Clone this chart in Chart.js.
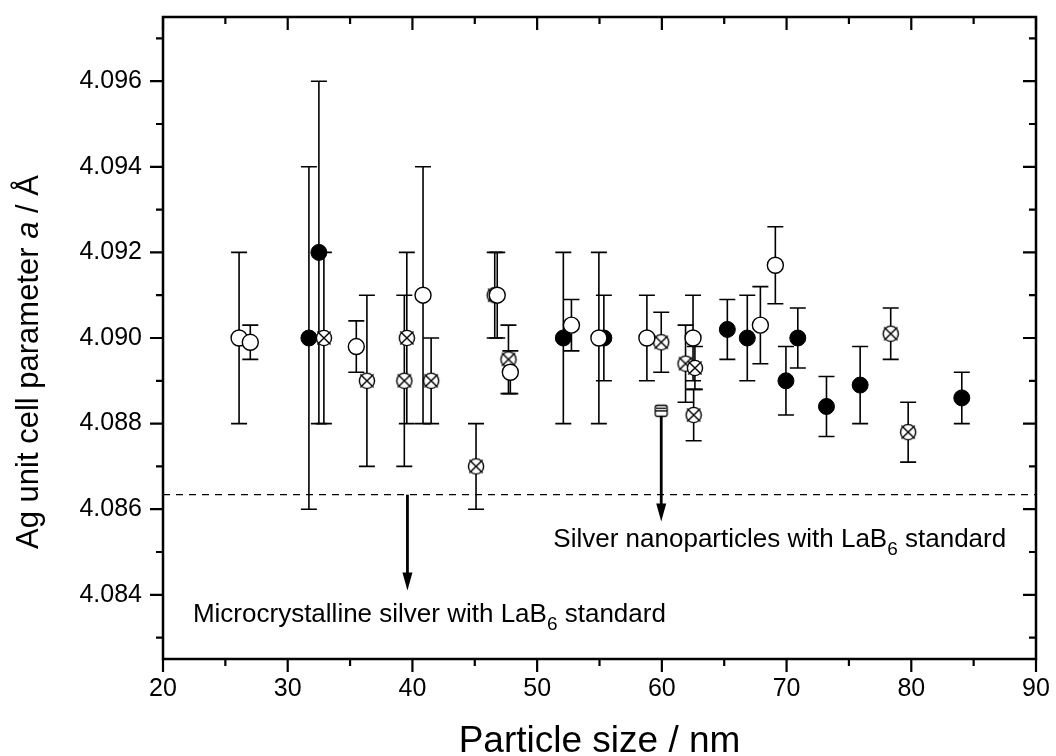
<!DOCTYPE html>
<html>
<head>
<meta charset="utf-8">
<script src="https://cdn.jsdelivr.net/npm/chart.js@4.4.0/dist/chart.umd.min.js"></script>
<style>
    html, body { margin: 0; padding: 0; background: #fff; }
    #wrap { width: 1056px; height: 756px; }
</style>
</head>
<body>
<div id="wrap"><canvas id="latticeChart" width="1056" height="756"></canvas></div>
<script>
// Particle size / nm, lattice parameter a / Å, lower and upper error limits
var filledX  = [31.7, 32.5, 52.1, 55.35, 65.25, 66.85, 69.95, 70.9, 73.2, 75.9, 84.05];
var filledY  = [4.0900, 4.0920, 4.0900, 4.0900, 4.0902, 4.0900, 4.0890, 4.0900, 4.0884, 4.0889, 4.0886];
var filledLo = [4.0860, 4.0880, 4.0880, 4.0890, 4.0895, 4.0890, 4.0882, 4.0893, 4.0877, 4.0880, 4.0880];
var filledHi = [4.0940, 4.0960, 4.0920, 4.0910, 4.0909, 4.0910, 4.0898, 4.0907, 4.0891, 4.0898, 4.0892];

var openX  = [26.1, 27.0, 35.5, 40.85, 46.8, 47.85, 52.75, 54.95, 58.8, 62.5, 67.9, 69.1];
var openY  = [4.0900, 4.0899, 4.0898, 4.0910, 4.0910, 4.0892, 4.0903, 4.0900, 4.0900, 4.0900, 4.0903, 4.0917];
var openLo = [4.0880, 4.0895, 4.0892, 4.0880, 4.0900, 4.0887, 4.0897, 4.0880, 4.0890, 4.0890, 4.0894, 4.0908];
var openHi = [4.0920, 4.0903, 4.0904, 4.0940, 4.0920, 4.0897, 4.0909, 4.0920, 4.0910, 4.0910, 4.0912, 4.0926];

var crossX  = [32.9, 36.35, 39.35, 39.55, 41.5, 45.1, 46.6, 47.7, 59.95, 61.9, 62.65, 62.55, 78.35, 79.75];
var crossY  = [4.0900, 4.0890, 4.0890, 4.0900, 4.0890, 4.0870, 4.0910, 4.0895, 4.0899, 4.0894, 4.0893, 4.0882, 4.0901, 4.0878];
var crossLo = [4.0880, 4.0870, 4.0870, 4.0880, 4.0880, 4.0860, 4.0900, 4.0887, 4.0892, 4.0885, 4.0888, 4.0876, 4.0895, 4.0871];
var crossHi = [4.0920, 4.0910, 4.0910, 4.0920, 4.0900, 4.0880, 4.0920, 4.0903, 4.0906, 4.0903, 4.0898, 4.0888, 4.0907, 4.0885];

// LaB6 reference values
var standardX = [59.95];
var standardY = [4.0883];
var microRef = 4.08634;

// Arrows: x, start value, tip value
var arrowX    = [39.6, 59.95];
var arrowFrom = [4.08634, 4.0882];
var arrowTo   = [4.0841, 4.08571];

var xTicks = [20, 30, 40, 50, 60, 70, 80, 90];
var xMinor = [25, 35, 45, 55, 65, 75, 85];
var yTicks = [4.084, 4.086, 4.088, 4.090, 4.092, 4.094, 4.096];
var yMinor = [4.083, 4.085, 4.087, 4.089, 4.091, 4.093, 4.095, 4.097];

var FONT = '"Liberation Sans", Arial, sans-serif';

function points(xs, ys, lo, hi) {
    return xs.map(function (x, i) {
        return { x: x, y: ys[i], lo: lo ? lo[i] : null, hi: hi ? hi[i] : null };
    });
}

// circle with an x through it
function crossedCircle() {
    var c = document.createElement('canvas');
    c.width = 22; c.height = 22;
    var g = c.getContext('2d');
    g.translate(11, 11);
    g.fillStyle = '#fff';
    g.strokeStyle = '#000';
    g.lineWidth = 1.4;
    g.beginPath(); g.arc(0, 0, 7.6, 0, Math.PI * 2); g.fill(); g.stroke();
    g.beginPath();
    g.moveTo(-6.6, -6.6); g.lineTo(6.6, 6.6);
    g.moveTo(6.6, -6.6); g.lineTo(-6.6, 6.6);
    g.stroke();
    return c;
}

// small half-hatched square for the LaB6 standard point
function standardMark() {
    var c = document.createElement('canvas');
    c.width = 18; c.height = 18;
    var g = c.getContext('2d');
    g.fillStyle = '#fff';
    g.strokeStyle = '#000';
    g.lineWidth = 1.3;
    g.beginPath();
    g.moveTo(5, 3.5); g.lineTo(13, 3.5); g.quadraticCurveTo(15, 3.5, 15, 6);
    g.lineTo(15, 12); g.quadraticCurveTo(15, 14.5, 13, 14.5); g.lineTo(5, 14.5);
    g.quadraticCurveTo(3, 14.5, 3, 12); g.lineTo(3, 6); g.quadraticCurveTo(3, 3.5, 5, 3.5);
    g.closePath(); g.fill(); g.stroke();
    g.beginPath();
    g.moveTo(3, 9); g.lineTo(15, 9);
    g.moveTo(4, 6.3); g.lineTo(14, 6.3);
    g.stroke();
    return c;
}

// keep the plot frame where it is, whatever the tick label sizes
function fixedBox(size) {
    return function (scale) {
        if (scale.isHorizontal()) scale.height = size; else scale.width = size;
        scale.paddingTop = 0;
        scale.paddingBottom = 0;
        scale.paddingLeft = 0;
        scale.paddingRight = 0;
    };
}

// Error bars, arrows, frame, ticks and labels
var decorPlugin = {
    id: 'decor',
    beforeDatasetsDraw: function (chart) {
        var ctx = chart.ctx, xs = chart.scales.x, ys = chart.scales.y;
        ctx.save();
        ctx.strokeStyle = '#000';
        ctx.lineWidth = 1.6;
        chart.data.datasets.forEach(function (ds) {
            if (!ds.errorBars) return;
            ds.data.forEach(function (p) {
                var px = xs.getPixelForValue(p.x);
                var top = ys.getPixelForValue(p.hi);
                var bot = ys.getPixelForValue(p.lo);
                ctx.beginPath();
                ctx.moveTo(px, top); ctx.lineTo(px, bot);
                ctx.moveTo(px - 8, top); ctx.lineTo(px + 8, top);
                ctx.moveTo(px - 8, bot); ctx.lineTo(px + 8, bot);
                ctx.stroke();
            });
        });
        // arrows
        ctx.lineWidth = 2.8;
        ctx.fillStyle = '#000';
        arrowX.forEach(function (x, i) {
            var px = xs.getPixelForValue(x);
            var y0 = ys.getPixelForValue(arrowFrom[i]);
            var y1 = ys.getPixelForValue(arrowTo[i]);
            ctx.beginPath();
            ctx.moveTo(px, y0); ctx.lineTo(px, y1 - 12);
            ctx.stroke();
            ctx.beginPath();
            ctx.moveTo(px - 5, y1 - 18); ctx.lineTo(px + 5, y1 - 18); ctx.lineTo(px, y1);
            ctx.closePath(); ctx.fill();
        });
        ctx.restore();
    },
    afterDraw: function (chart) {
        var ctx = chart.ctx, a = chart.chartArea, xs = chart.scales.x, ys = chart.scales.y;
        ctx.save();
        ctx.strokeStyle = '#000';
        ctx.lineWidth = 2.5;
        ctx.strokeRect(a.left, a.top, a.right - a.left, a.bottom - a.top);

        function tickX(v, len) {
            var px = xs.getPixelForValue(v);
            ctx.moveTo(px, a.bottom); ctx.lineTo(px, a.bottom + len);
            ctx.moveTo(px, a.top); ctx.lineTo(px, a.top + len);
        }
        function tickY(v, len) {
            var py = ys.getPixelForValue(v);
            ctx.moveTo(a.left, py); ctx.lineTo(a.left - len, py);
            ctx.moveTo(a.right, py); ctx.lineTo(a.right - len, py);
        }
        ctx.lineWidth = 2.2;
        ctx.beginPath();
        xTicks.forEach(function (v) { tickX(v, 13); });
        xMinor.forEach(function (v) { tickX(v, 7); });
        yTicks.forEach(function (v) { tickY(v, 13); });
        yMinor.forEach(function (v) { tickY(v, 7); });
        ctx.stroke();

        // annotations
        function labelWithSub(x, y, pre, sub, post, size) {
            var px = xs.getPixelForValue(x), py = ys.getPixelForValue(y);
            ctx.fillStyle = '#000';
            ctx.textBaseline = 'alphabetic';
            ctx.textAlign = 'left';
            ctx.font = size + 'px ' + FONT;
            ctx.fillText(pre, px, py);
            px += ctx.measureText(pre).width;
            ctx.font = Math.round(size * 0.72) + 'px ' + FONT;
            ctx.fillText(sub, px, py + size * 0.3);
            px += ctx.measureText(sub).width;
            ctx.font = size + 'px ' + FONT;
            ctx.fillText(post, px, py);
        }
        labelWithSub(51.3, 4.08512, 'Silver nanoparticles with LaB', '6', ' standard', 26);
        labelWithSub(22.4, 4.08337, 'Microcrystalline silver with LaB', '6', ' standard', 26);

        // axis titles
        ctx.fillStyle = '#000';
        ctx.textBaseline = 'alphabetic';
        ctx.textAlign = 'center';
        ctx.font = '37px ' + FONT;
        ctx.fillText('Particle size / nm', (a.left + a.right) / 2, 752);

        var parts = [['Ag unit cell parameter ', ''], ['a', 'italic '], [' / Å', '']];
        var total = 0;
        parts.forEach(function (p) {
            ctx.font = p[1] + '31px ' + FONT;
            total += ctx.measureText(p[0]).width;
        });
        ctx.translate(38, 362);
        ctx.rotate(-Math.PI / 2);
        ctx.textAlign = 'left';
        var cx = -total / 2;
        parts.forEach(function (p) {
            ctx.font = p[1] + '31px ' + FONT;
            ctx.fillText(p[0], cx, 0);
            cx += ctx.measureText(p[0]).width;
        });
        ctx.restore();
    }
};

var ctx = document.getElementById('latticeChart').getContext('2d');
var latticeChart = new Chart(ctx, {
    type: 'scatter',
    data: {
        datasets: [{
            type: 'line',
            label: 'Microcrystalline silver',
            data: [{ x: 20, y: microRef }, { x: 90, y: microRef }],
            borderColor: '#000',
            borderWidth: 1.4,
            borderDash: [7, 6],
            pointRadius: 0
        }, {
            label: 'Open',
            data: points(openX, openY, openLo, openHi),
            errorBars: true,
            pointStyle: 'circle',
            pointRadius: 8,
            backgroundColor: '#fff',
            borderColor: '#000',
            borderWidth: 1.4
        }, {
            label: 'Crossed',
            data: points(crossX, crossY, crossLo, crossHi),
            errorBars: true,
            pointStyle: crossedCircle(),
            pointRadius: 8
        }, {
            label: 'Filled',
            data: points(filledX, filledY, filledLo, filledHi),
            errorBars: true,
            pointStyle: 'circle',
            pointRadius: 8,
            backgroundColor: '#000',
            borderColor: '#000',
            borderWidth: 1
        }, {
            label: 'LaB6 standard',
            data: points(standardX, standardY),
            pointStyle: standardMark(),
            pointRadius: 8
        }]
    },
    options: {
        responsive: false,
        animation: false,
        devicePixelRatio: 1,
        layout: { padding: { left: 0, right: 20, top: 17, bottom: 0 } },
        plugins: {
            legend: { display: false },
            tooltip: { enabled: false }
        },
        scales: {
            x: {
                type: 'linear',
                min: 20,
                max: 90,
                afterBuildTicks: function (scale) {
                    scale.ticks = xTicks.map(function (v) { return { value: v }; });
                },
                afterFit: fixedBox(97),
                grid: { display: false, drawTicks: false },
                border: { display: false },
                ticks: {
                    padding: 15,
                    color: '#000',
                    font: { family: FONT, size: 25 },
                    maxRotation: 0
                }
            },
            y: {
                type: 'linear',
                min: 4.0825,
                max: 4.0975,
                afterBuildTicks: function (scale) {
                    scale.ticks = yTicks.map(function (v) { return { value: v }; });
                },
                afterFit: fixedBox(163),
                grid: { display: false, drawTicks: false },
                border: { display: false },
                ticks: {
                    padding: 21,
                    color: '#000',
                    font: { family: FONT, size: 25 },
                    callback: function (value) { return value.toFixed(3); }
                }
            }
        }
    },
    plugins: [decorPlugin]
});
</script>
</body>
</html>
